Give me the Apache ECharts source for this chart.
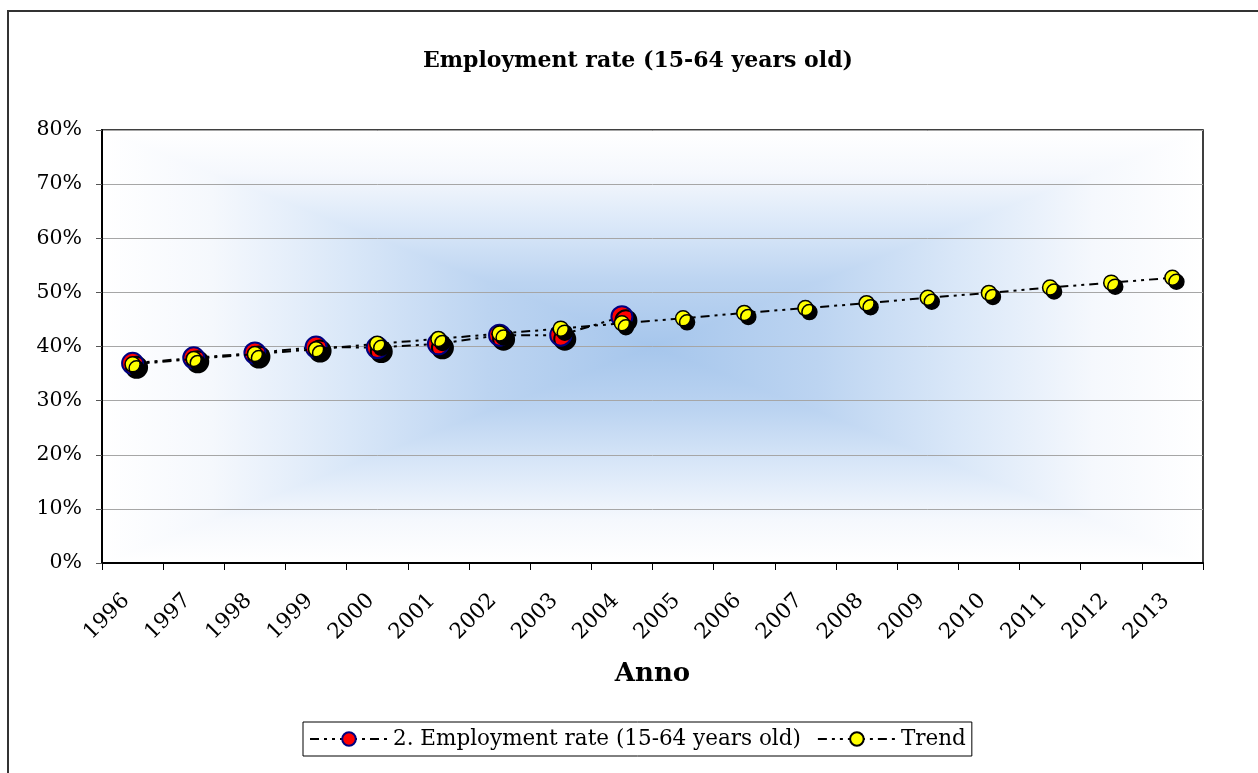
<!DOCTYPE html>
<html>
<head>
<meta charset="utf-8">
<title>Employment rate</title>
<script src="https://cdn.jsdelivr.net/npm/echarts/dist/echarts.min.js"></script>
<style>
  html, body { margin: 0; padding: 0; background: #fff; }
  #chart { width: 1258px; height: 773px; }
</style>
</head>
<body>
<div id="chart"></div>
<script>
// anni (asse x)
var years = ['1996', '1997', '1998', '1999', '2000', '2001', '2002', '2003', '2004',
  '2005', '2006', '2007', '2008', '2009', '2010', '2011', '2012', '2013'];
// tasso di occupazione, valori in %
var employment = [36.9, 37.9, 38.8, 39.9, 39.8, 40.5, 42.1, 42.1, 45.5];
// linea di tendenza, valori in %
var trend = [36.7, 37.7, 38.6, 39.5, 40.5, 41.4, 42.4, 43.3, 44.3,
  45.2, 46.2, 47.1, 48.0, 49.0, 49.9, 50.9, 51.8, 52.7];
var yTicks = { min: 0, max: 80, step: 10 };

// area del grafico (pixel)
var PL = 102, PT = 130, PW = 1101, PH = 433;
var CX = PL + PW / 2, CY = PT + PH / 2;
var SERIF = 'DejaVu Serif';

// sfumatura bianco -> azzurro (0 = bordo, 1 = centro)
var shade = [
  ['#ffffff', 0], ['#f5f8fd', 0.2], ['#d9e7f8', 0.45], ['#bcd4f1', 0.7], ['#a6c6ec', 1]
];
function stops(reverse, half) {
  // half: true = bordo->centro->bordo su tutta la lunghezza
  var out = [];
  shade.forEach(function (s) {
    if (half) {
      out.push({ offset: s[1] / 2, color: s[0] });
      out.push({ offset: 1 - s[1] / 2, color: s[0] });
    } else {
      out.push({ offset: reverse ? 1 - s[1] : s[1], color: s[0] });
    }
  });
  out.sort(function (a, b) { return a.offset - b.offset; });
  return out;
}

var chart = echarts.init(document.getElementById('chart'));

var option = {
  animation: false,
  backgroundColor: '#fff',
  title: {
    text: 'Employment rate (15-64 years old)',
    left: 418,
    top: 45,
    textStyle: { fontFamily: SERIF, fontWeight: 'bold', fontSize: 22, color: '#000' }
  },
  graphic: [
    // cornice esterna
    { type: 'rect', z: -5, shape: { x: 8, y: 11, width: 1300, height: 800 }, style: { fill: 'none', stroke: '#333', lineWidth: 2 } },
    // sfumatura dal centro: fondo verticale + triangoli laterali
    { type: 'rect', z: -3, shape: { x: PL, y: PT, width: PW, height: PH },
      style: { fill: { type: 'linear', x: 0, y: 0, x2: 0, y2: 1, colorStops: stops(false, true) } } },
    { type: 'polygon', z: -2, shape: { points: [[PL, PT], [PL, PT + PH], [CX, CY]] },
      style: { fill: { type: 'linear', x: 0, y: 0, x2: 1, y2: 0, colorStops: stops(false, false) } } },
    { type: 'polygon', z: -2, shape: { points: [[PL + PW, PT], [PL + PW, PT + PH], [CX, CY]] },
      style: { fill: { type: 'linear', x: 0, y: 0, x2: 1, y2: 0, colorStops: stops(true, false) } } }
  ],
  grid: {
    left: PL, top: PT, width: PW, height: PH,
    show: true, borderColor: '#000', borderWidth: 1.5, backgroundColor: 'transparent'
  },
  legend: {
    left: 303, top: 722,
    padding: [6, 6, 6, 6],
    borderColor: '#000', borderWidth: 1,
    itemWidth: 78, itemHeight: 17, itemGap: 16,
    textStyle: { fontFamily: SERIF, fontSize: 21.5, color: '#000' },
    itemStyle: { shadowBlur: 0, shadowOffsetX: 0, shadowOffsetY: 0, shadowColor: 'rgba(0,0,0,0)' }
  },
  xAxis: {
    type: 'category',
    data: years,
    boundaryGap: true,
    z: 3,
    name: 'Anno',
    nameLocation: 'middle',
    nameGap: 98,
    nameTextStyle: { fontFamily: SERIF, fontWeight: 'bold', fontSize: 26, color: '#000' },
    axisLine: { lineStyle: { color: '#000', width: 2 } },
    axisTick: { show: true, length: 7, lineStyle: { color: '#000', width: 1 } },
    axisLabel: { rotate: 45, margin: 28, padding: [0, 9, 0, 0], fontFamily: SERIF, fontSize: 21.5, color: '#000' }
  },
  yAxis: {
    type: 'value',
    min: yTicks.min, max: yTicks.max, interval: yTicks.step,
    z: 3,
    axisLine: { show: true, lineStyle: { color: '#000', width: 2 } },
    axisTick: { show: true, length: 6, lineStyle: { color: '#555', width: 1 } },
    axisLabel: { formatter: '{value}%', margin: 20, fontFamily: SERIF, fontSize: 20.5, color: '#000' },
    splitLine: { show: true, lineStyle: { color: '#a6a6a6', width: 1 } }
  },
  series: [
    {
      name: '2. Employment rate (15-64 years old)',
      type: 'line',
      data: employment,
      z: 3,
      symbol: 'circle',
      symbolSize: 21,
      lineStyle: { color: '#000', width: 2, type: [9, 5, 3, 5, 3, 5] },
      itemStyle: {
        color: '#ff0000', borderColor: '#000080', borderWidth: 2,
        shadowColor: '#000', shadowBlur: 0, shadowOffsetX: 4, shadowOffsetY: 4
      }
    },
    {
      name: 'Trend',
      type: 'line',
      data: trend,
      z: 4,
      symbol: 'circle',
      symbolSize: 15,
      lineStyle: { color: '#000', width: 2, type: [9, 5, 3, 5, 3, 5] },
      itemStyle: {
        color: '#ffff00', borderColor: '#000', borderWidth: 1.5,
        shadowColor: '#000', shadowBlur: 0, shadowOffsetX: 4, shadowOffsetY: 4
      }
    }
  ]
};

chart.setOption(option);
</script>
</body>
</html>
